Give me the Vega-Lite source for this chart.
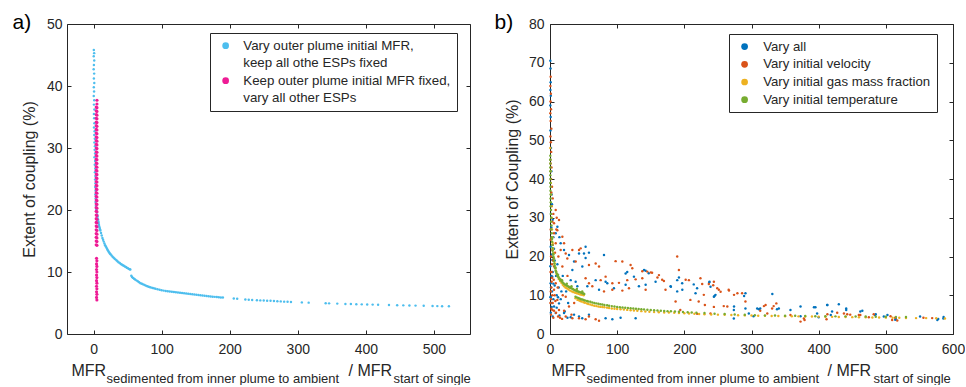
{
"$schema": "https://vega.github.io/schema/vega-lite/v6.json",
"background": "white",
"padding": {"left": 12, "top": 11, "right": 0, "bottom": 0},
"datasets": {
"a": [
{"s":"v","x":0.4,"y":45.8},{"s":"v","x":0.9,"y":45.3},{"s":"v","x":0.3,"y":44.8},{"s":"v","x":1.0,"y":44.1},{"s":"v","x":0.5,"y":43.4},{"s":"v","x":0.2,"y":42.7},{"s":"v","x":0.9,"y":42.0},{"s":"v","x":0.5,"y":41.2},{"s":"v","x":1.1,"y":40.5},{"s":"v","x":0.4,"y":39.8},{"s":"v","x":0.8,"y":39.1},{"s":"v","x":0.3,"y":38.4},{"s":"v","x":1.0,"y":37.7},{"s":"v","x":0.6,"y":37.0},{"s":"v","x":1.2,"y":36.2},{"s":"v","x":0.5,"y":35.5},{"s":"v","x":0.9,"y":34.8},{"s":"v","x":1.3,"y":34.0},{"s":"v","x":0.7,"y":33.3},{"s":"v","x":1.5,"y":32.7},{"s":"v","x":1.1,"y":32.1},{"s":"v","x":1.8,"y":31.5},{"s":"v","x":1.3,"y":30.9},{"s":"v","x":2.0,"y":30.3},{"s":"v","x":1.6,"y":29.7},{"s":"v","x":2.2,"y":29.1},{"s":"v","x":1.4,"y":28.5},{"s":"v","x":2.3,"y":27.9},{"s":"v","x":1.8,"y":27.3},{"s":"v","x":2.5,"y":26.7},{"s":"v","x":2.0,"y":26.1},{"s":"v","x":2.7,"y":25.5},{"s":"v","x":2.2,"y":24.9},{"s":"v","x":2.8,"y":24.3},{"s":"v","x":2.4,"y":23.7},{"s":"v","x":3.0,"y":23.1},{"s":"v","x":2.6,"y":22.5},{"s":"v","x":3.2,"y":21.9},{"s":"v","x":2.9,"y":21.3},{"s":"v","x":3.4,"y":20.7},{"s":"v","x":3.6,"y":20.2},
{"s":"v","x":4.5,"y":20.0},{"s":"v","x":5,"y":19.6},{"s":"v","x":5.5,"y":19.2},{"s":"v","x":6,"y":18.9},{"s":"v","x":6.5,"y":18.5},{"s":"v","x":7,"y":18.2},{"s":"v","x":7.5,"y":17.9},{"s":"v","x":8,"y":17.6},{"s":"v","x":8.5,"y":17.3},{"s":"v","x":9,"y":17.1},{"s":"v","x":9.5,"y":16.9},{"s":"v","x":10,"y":16.7},{"s":"v","x":11,"y":16.3},{"s":"v","x":12,"y":15.9},{"s":"v","x":13,"y":15.5},{"s":"v","x":14,"y":15.2},{"s":"v","x":15,"y":14.9},{"s":"v","x":16,"y":14.6},{"s":"v","x":17,"y":14.3},{"s":"v","x":18,"y":14.1},{"s":"v","x":19,"y":13.9},{"s":"v","x":20,"y":13.7},{"s":"v","x":21,"y":13.5},{"s":"v","x":22,"y":13.3},{"s":"v","x":23,"y":13.15},{"s":"v","x":24,"y":13.0},{"s":"v","x":25,"y":12.85},{"s":"v","x":26.5,"y":12.65},{"s":"v","x":28,"y":12.45},{"s":"v","x":29.5,"y":12.3},{"s":"v","x":31,"y":12.15},{"s":"v","x":32.5,"y":12.0},{"s":"v","x":34,"y":11.85},{"s":"v","x":35.5,"y":11.7},{"s":"v","x":37,"y":11.55},{"s":"v","x":38.5,"y":11.45},{"s":"v","x":40,"y":11.3},{"s":"v","x":41.5,"y":11.2},{"s":"v","x":43,"y":11.1},{"s":"v","x":44.5,"y":11.0},{"s":"v","x":46,"y":10.9},{"s":"v","x":47.5,"y":10.8},{"s":"v","x":49,"y":10.7},{"s":"v","x":50.5,"y":10.6},{"s":"v","x":52,"y":10.5},{"s":"v","x":53,"y":10.45},{"s":"v","x":54,"y":10.4},
{"s":"v","x":55.5,"y":9.4},{"s":"v","x":56.5,"y":9.2},{"s":"v","x":58,"y":9.05},{"s":"v","x":59.5,"y":8.9},{"s":"v","x":61,"y":8.8},{"s":"v","x":63,"y":8.65},{"s":"v","x":65,"y":8.5},{"s":"v","x":67,"y":8.35},{"s":"v","x":69,"y":8.2},{"s":"v","x":71,"y":8.1},{"s":"v","x":73,"y":8.0},{"s":"v","x":75,"y":7.9},{"s":"v","x":77,"y":7.8},{"s":"v","x":79,"y":7.7},{"s":"v","x":81,"y":7.62},{"s":"v","x":83,"y":7.55},{"s":"v","x":85,"y":7.48},{"s":"v","x":87,"y":7.42},{"s":"v","x":89,"y":7.36},{"s":"v","x":91,"y":7.3},{"s":"v","x":94,"y":7.22},{"s":"v","x":97,"y":7.14},{"s":"v","x":100,"y":7.07},{"s":"v","x":103,"y":7.0},{"s":"v","x":106,"y":6.95},{"s":"v","x":109,"y":6.9},{"s":"v","x":112,"y":6.85},{"s":"v","x":115,"y":6.8},{"s":"v","x":118,"y":6.76},{"s":"v","x":121,"y":6.72},{"s":"v","x":124,"y":6.68},{"s":"v","x":127,"y":6.64},{"s":"v","x":130,"y":6.6},{"s":"v","x":133,"y":6.56},{"s":"v","x":136,"y":6.52},{"s":"v","x":139,"y":6.48},{"s":"v","x":142,"y":6.44},{"s":"v","x":145,"y":6.4},{"s":"v","x":148,"y":6.36},{"s":"v","x":151,"y":6.32},{"s":"v","x":154,"y":6.28},{"s":"v","x":157,"y":6.24},{"s":"v","x":160,"y":6.2},{"s":"v","x":163,"y":6.16},{"s":"v","x":166,"y":6.12},{"s":"v","x":169,"y":6.08},{"s":"v","x":172,"y":6.05},{"s":"v","x":175,"y":6.02},{"s":"v","x":178,"y":5.99},{"s":"v","x":181,"y":5.96},{"s":"v","x":184,"y":5.93},{"s":"v","x":187,"y":5.9},{"s":"v","x":190,"y":5.88},
{"s":"v","x":206,"y":5.74},{"s":"v","x":211,"y":5.7},{"s":"v","x":223,"y":5.56},{"s":"v","x":228,"y":5.52},{"s":"v","x":233,"y":5.48},{"s":"v","x":240,"y":5.44},{"s":"v","x":245,"y":5.42},{"s":"v","x":250,"y":5.4},{"s":"v","x":255,"y":5.37},{"s":"v","x":260,"y":5.35},{"s":"v","x":265,"y":5.32},{"s":"v","x":270,"y":5.29},{"s":"v","x":275,"y":5.26},{"s":"v","x":280,"y":5.22},{"s":"v","x":285,"y":5.19},{"s":"v","x":290,"y":5.16},{"s":"v","x":306,"y":5.1},{"s":"v","x":316,"y":5.06},{"s":"v","x":341,"y":4.96},{"s":"v","x":346,"y":4.94},{"s":"v","x":358,"y":4.9},{"s":"v","x":370,"y":4.85},{"s":"v","x":378,"y":4.83},{"s":"v","x":386,"y":4.8},{"s":"v","x":394,"y":4.78},{"s":"v","x":402,"y":4.76},{"s":"v","x":410,"y":4.74},{"s":"v","x":418,"y":4.72},{"s":"v","x":434,"y":4.68},{"s":"v","x":446,"y":4.64},{"s":"v","x":455,"y":4.62},{"s":"v","x":464,"y":4.6},{"s":"v","x":473,"y":4.58},{"s":"v","x":485,"y":4.55},{"s":"v","x":498,"y":4.52},{"s":"v","x":505,"y":4.5},{"s":"v","x":512,"y":4.48},{"s":"v","x":522,"y":4.46},
{"s":"k","x":5.0,"y":37.7},{"s":"k","x":5.0,"y":37.1},{"s":"k","x":5.0,"y":36.5},{"s":"k","x":5.0,"y":35.9},{"s":"k","x":5.0,"y":35.3},{"s":"k","x":5.0,"y":34.7},{"s":"k","x":5.0,"y":34.1},{"s":"k","x":5.0,"y":33.5},{"s":"k","x":5.0,"y":32.9},{"s":"k","x":5.0,"y":32.3},{"s":"k","x":5.0,"y":31.7},{"s":"k","x":5.0,"y":31.1},{"s":"k","x":5.0,"y":30.5},{"s":"k","x":5.0,"y":29.9},{"s":"k","x":5.0,"y":29.3},{"s":"k","x":5.0,"y":28.7},{"s":"k","x":5.0,"y":28.1},{"s":"k","x":5.0,"y":27.5},{"s":"k","x":5.0,"y":26.9},{"s":"k","x":5.0,"y":26.3},{"s":"k","x":5.0,"y":25.7},{"s":"k","x":5.0,"y":25.1},{"s":"k","x":5.0,"y":24.5},{"s":"k","x":5.0,"y":23.9},{"s":"k","x":5.0,"y":23.3},{"s":"k","x":5.0,"y":22.7},{"s":"k","x":5.0,"y":22.1},{"s":"k","x":5.0,"y":21.5},{"s":"k","x":5.0,"y":20.9},{"s":"k","x":5.0,"y":20.3},{"s":"k","x":5.0,"y":19.7},{"s":"k","x":5.0,"y":19.1},{"s":"k","x":5.0,"y":18.5},{"s":"k","x":5.0,"y":17.9},{"s":"k","x":5.0,"y":17.3},{"s":"k","x":5.0,"y":16.7},{"s":"k","x":5.0,"y":16.1},{"s":"k","x":5.0,"y":15.5},{"s":"k","x":5.0,"y":14.9},{"s":"k","x":5.0,"y":14.3},
{"s":"k","x":3.9,"y":36.6},{"s":"k","x":3.9,"y":36.0},{"s":"k","x":3.9,"y":35.4},{"s":"k","x":3.9,"y":34.8},{"s":"k","x":3.9,"y":34.2},{"s":"k","x":3.9,"y":33.6},{"s":"k","x":3.9,"y":33.0},{"s":"k","x":3.9,"y":32.4},{"s":"k","x":3.9,"y":31.8},{"s":"k","x":3.9,"y":31.2},{"s":"k","x":3.9,"y":30.6},{"s":"k","x":3.9,"y":30.0},{"s":"k","x":3.9,"y":29.4},{"s":"k","x":3.9,"y":28.8},{"s":"k","x":3.9,"y":28.2},{"s":"k","x":3.9,"y":27.6},{"s":"k","x":3.9,"y":27.0},{"s":"k","x":3.9,"y":26.4},{"s":"k","x":3.9,"y":25.8},{"s":"k","x":3.9,"y":25.2},{"s":"k","x":3.9,"y":24.6},{"s":"k","x":3.9,"y":24.0},{"s":"k","x":3.9,"y":23.4},{"s":"k","x":3.9,"y":22.8},{"s":"k","x":3.9,"y":22.2},{"s":"k","x":3.9,"y":21.6},{"s":"k","x":3.9,"y":21.0},{"s":"k","x":3.9,"y":20.4},{"s":"k","x":3.9,"y":19.8},{"s":"k","x":3.9,"y":19.2},{"s":"k","x":3.9,"y":18.6},{"s":"k","x":3.9,"y":18.0},{"s":"k","x":3.9,"y":17.4},{"s":"k","x":3.9,"y":16.8},{"s":"k","x":3.9,"y":16.2},{"s":"k","x":3.9,"y":15.6},{"s":"k","x":3.9,"y":15.0},{"s":"k","x":3.9,"y":14.4},
{"s":"k","x":4.4,"y":12.2},{"s":"k","x":4.9,"y":11.8},{"s":"k","x":4.4,"y":11.3},{"s":"k","x":4.9,"y":10.9},{"s":"k","x":4.4,"y":10.4},{"s":"k","x":4.9,"y":10.0},{"s":"k","x":4.4,"y":9.5},{"s":"k","x":4.9,"y":9.1},{"s":"k","x":4.4,"y":8.6},{"s":"k","x":4.9,"y":8.2},{"s":"k","x":4.4,"y":7.7},{"s":"k","x":4.9,"y":7.3},{"s":"k","x":4.4,"y":6.8},{"s":"k","x":4.9,"y":6.4},{"s":"k","x":4.4,"y":5.9},{"s":"k","x":4.9,"y":5.5}
],
"b": [
{"s":"all","x":0.5,"y":70.5},{"s":"all","x":0.8,"y":68.5},{"s":"all","x":1,"y":65},{"s":"all","x":0.6,"y":63},{"s":"all","x":1.2,"y":61.5},{"s":"all","x":0.5,"y":59},{"s":"all","x":1,"y":56},{"s":"all","x":0.7,"y":52.5},{"s":"all","x":1.5,"y":48},{"s":"all","x":0.8,"y":45},{"s":"all","x":2,"y":42},{"s":"all","x":1.2,"y":39},{"s":"all","x":2.5,"y":36},{"s":"all","x":3,"y":33.5},{"s":"all","x":1.5,"y":31},{"s":"all","x":4,"y":29.5},{"s":"all","x":2,"y":27.5},{"s":"all","x":5,"y":25},{"s":"all","x":1,"y":22.5},{"s":"all","x":3,"y":20.5},{"s":"all","x":0.5,"y":17.5},{"s":"all","x":2,"y":15},{"s":"all","x":1.5,"y":12},{"s":"all","x":0.8,"y":9.5},{"s":"all","x":2.5,"y":7},{"s":"all","x":1.2,"y":5.5},{"s":"all","x":4,"y":4.5},
{"s":"all","x":8.5,"y":26},{"s":"all","x":11,"y":27.7},{"s":"all","x":15.9,"y":23.4},{"s":"all","x":20.9,"y":21.7},{"s":"all","x":28.3,"y":20.4},{"s":"all","x":35.8,"y":18.7},{"s":"all","x":43.2,"y":20.8},{"s":"all","x":50.6,"y":20.8},{"s":"all","x":58,"y":21},{"s":"all","x":53,"y":19.6},{"s":"all","x":48.1,"y":17.4},{"s":"all","x":33.3,"y":16.5},{"s":"all","x":30.8,"y":13.9},{"s":"all","x":38.2,"y":13.5},{"s":"all","x":40.7,"y":12.3},{"s":"all","x":55.6,"y":12.3},{"s":"all","x":68,"y":13.9},{"s":"all","x":82.8,"y":13.5},{"s":"all","x":95.2,"y":11.8},{"s":"all","x":112.6,"y":15.6},{"s":"all","x":115,"y":16},{"s":"all","x":125,"y":14.8},{"s":"all","x":132.4,"y":12.3},{"s":"all","x":142.4,"y":16.3},{"s":"all","x":157.2,"y":13.5},{"s":"all","x":179.5,"y":12.3},{"s":"all","x":189.4,"y":13.9},{"s":"all","x":196.8,"y":13.1},{"s":"all","x":189.4,"y":11},{"s":"all","x":216.7,"y":10.5},{"s":"all","x":142.4,"y":12.7},{"s":"all","x":73,"y":11.4},{"s":"all","x":112.6,"y":12.7},{"s":"all","x":85.3,"y":13.1},{"s":"all","x":13.4,"y":7.9},{"s":"all","x":8.5,"y":5.4},{"s":"all","x":20.9,"y":5.4},{"s":"all","x":35.8,"y":5},{"s":"all","x":30.8,"y":4.3},{"s":"all","x":43.2,"y":4.5},{"s":"all","x":82.8,"y":4.05},{"s":"all","x":92.8,"y":3.8},{"s":"all","x":127.5,"y":4.05},{"s":"all","x":105.1,"y":4.2},{"s":"all","x":58,"y":5},{"s":"all","x":48,"y":4.05},{"s":"all","x":3.5,"y":19.1},{"s":"all","x":1,"y":13.1},{"s":"all","x":6,"y":7.1},{"s":"all","x":1,"y":9.6},{"s":"all","x":3.5,"y":14.8},{"s":"all","x":80.4,"y":20.4},{"s":"all","x":53,"y":22.5},
{"s":"all","x":140,"y":16.5},{"s":"all","x":147,"y":15.7},{"s":"all","x":180,"y":12.2},{"s":"all","x":192,"y":14.6},{"s":"all","x":197,"y":11.4},{"s":"all","x":214,"y":12.8},{"s":"all","x":219,"y":11.8},{"s":"all","x":237,"y":13.3},{"s":"all","x":244,"y":9.6},{"s":"all","x":291,"y":10.5},{"s":"all","x":289,"y":9.8},{"s":"all","x":331,"y":10.3},{"s":"all","x":274,"y":7.1},{"s":"all","x":308.5,"y":6.6},{"s":"all","x":338,"y":6.4},{"s":"all","x":373,"y":7.1},{"s":"all","x":393,"y":6.9},{"s":"all","x":413,"y":7.5},{"s":"all","x":430,"y":7.7},{"s":"all","x":441,"y":6.6},{"s":"all","x":462,"y":5.8},{"s":"all","x":484,"y":4.9},{"s":"all","x":497,"y":4.5},{"s":"all","x":514,"y":3.7},{"s":"all","x":551,"y":4.5},{"s":"all","x":578,"y":3.9},{"s":"all","x":586,"y":4.4},{"s":"all","x":358,"y":6.2},{"s":"all","x":418,"y":4.9},{"s":"all","x":400,"y":4.3},{"s":"all","x":303,"y":4.6},
{"s":"all","x":237.5,"y":13.5},{"s":"all","x":239,"y":12.2},{"s":"all","x":245,"y":9.8},{"s":"all","x":246.4,"y":10.1},{"s":"all","x":273.7,"y":6.2},{"s":"all","x":291,"y":6.6},{"s":"all","x":311,"y":6.4},{"s":"all","x":313,"y":6.6},{"s":"all","x":340.7,"y":6.6},{"s":"all","x":373,"y":4.6},{"s":"all","x":395.2,"y":6.9},{"s":"all","x":397.7,"y":5.3},{"s":"all","x":412.6,"y":7.5},{"s":"all","x":420,"y":5.8},{"s":"all","x":441,"y":6.2},{"s":"all","x":465,"y":6.0},{"s":"all","x":485,"y":5.1},{"s":"all","x":502.4,"y":4.9},{"s":"all","x":514.8,"y":3.9},{"s":"all","x":576.7,"y":3.6},{"s":"all","x":585.7,"y":4.0},{"s":"all","x":273.7,"y":4.0},{"s":"all","x":296,"y":5.3},
{"s":"all","x":5,"y":9},{"s":"all","x":7,"y":12.5},{"s":"all","x":10,"y":6.8},{"s":"all","x":12,"y":9.5},{"s":"all","x":14,"y":4.8},{"s":"all","x":17,"y":11},{"s":"all","x":22,"y":5.8},{"s":"all","x":26,"y":4.2},
{"s":"all","x":2,"y":8},{"s":"all","x":3,"y":11},{"s":"all","x":4,"y":16},{"s":"all","x":5,"y":13},{"s":"all","x":6,"y":22},{"s":"all","x":7,"y":19},{"s":"all","x":9,"y":15},{"s":"all","x":10,"y":10},{"s":"all","x":11,"y":18},{"s":"all","x":13,"y":12},{"s":"all","x":14,"y":25},{"s":"all","x":16,"y":9},{"s":"all","x":19,"y":15},{"s":"all","x":24,"y":11},{"s":"all","x":27,"y":8},
{"s":"vel","x":1,"y":66.4},{"s":"vel","x":0.6,"y":64},{"s":"vel","x":1.3,"y":62},{"s":"vel","x":0.8,"y":60},{"s":"vel","x":1.5,"y":58},{"s":"vel","x":0.5,"y":57},{"s":"vel","x":1,"y":55},{"s":"vel","x":2,"y":53},{"s":"vel","x":0.7,"y":51},{"s":"vel","x":1.2,"y":49.5},{"s":"vel","x":1.8,"y":47},{"s":"vel","x":0.9,"y":44},{"s":"vel","x":2.2,"y":43},{"s":"vel","x":1.5,"y":40},{"s":"vel","x":3,"y":38},{"s":"vel","x":2,"y":36.5},{"s":"vel","x":4,"y":35},{"s":"vel","x":2.5,"y":33},{"s":"vel","x":5,"y":31},{"s":"vel","x":3.5,"y":29},{"s":"vel","x":1,"y":27},{"s":"vel","x":6,"y":26},{"s":"vel","x":2,"y":24.5},{"s":"vel","x":4,"y":23},{"s":"vel","x":1.5,"y":20},{"s":"vel","x":3,"y":18},{"s":"vel","x":0.8,"y":16},{"s":"vel","x":2.5,"y":13.5},{"s":"vel","x":1.2,"y":11},{"s":"vel","x":3.5,"y":10},{"s":"vel","x":0.6,"y":8},{"s":"vel","x":2,"y":6.5},{"s":"vel","x":1.5,"y":5},{"s":"vel","x":5,"y":4.2},{"s":"vel","x":10,"y":30},
{"s":"vel","x":6,"y":28.6},{"s":"vel","x":10.9,"y":26.8},{"s":"vel","x":13.4,"y":29.4},{"s":"vel","x":18.4,"y":25.1},{"s":"vel","x":20.9,"y":23.4},{"s":"vel","x":23.4,"y":20.8},{"s":"vel","x":25.8,"y":19.5},{"s":"vel","x":33.3,"y":21.7},{"s":"vel","x":43.2,"y":21.7},{"s":"vel","x":45.7,"y":22.1},{"s":"vel","x":38.2,"y":18.7},{"s":"vel","x":58,"y":17.8},{"s":"vel","x":68,"y":18.2},{"s":"vel","x":73,"y":17.4},{"s":"vel","x":97.7,"y":18.8},{"s":"vel","x":107.7,"y":18.7},{"s":"vel","x":120,"y":17.8},{"s":"vel","x":122.5,"y":16.95},{"s":"vel","x":144.8,"y":16.1},{"s":"vel","x":152,"y":15.8},{"s":"vel","x":75.4,"y":13.9},{"s":"vel","x":82.8,"y":14.8},{"s":"vel","x":92.8,"y":13.1},{"s":"vel","x":102.7,"y":13.2},{"s":"vel","x":115,"y":13.9},{"s":"vel","x":127.5,"y":14.1},{"s":"vel","x":137.4,"y":14.4},{"s":"vel","x":162.2,"y":15.2},{"s":"vel","x":169.6,"y":13.7},{"s":"vel","x":191.9,"y":16.5},{"s":"vel","x":206.8,"y":13.9},{"s":"vel","x":224,"y":14.4},{"s":"vel","x":53,"y":14.4},{"s":"vel","x":58,"y":13.1},{"s":"vel","x":63,"y":12.3},{"s":"vel","x":80.4,"y":11},{"s":"vel","x":92.8,"y":11.4},{"s":"vel","x":107.7,"y":11.2},{"s":"vel","x":117.6,"y":11.8},{"s":"vel","x":142.4,"y":11.4},{"s":"vel","x":172,"y":11.4},{"s":"vel","x":187,"y":8.4},{"s":"vel","x":209,"y":8.8},{"s":"vel","x":221.4,"y":8.4},{"s":"vel","x":23.4,"y":9.6},{"s":"vel","x":28.3,"y":7.1},{"s":"vel","x":13.4,"y":6.2},{"s":"vel","x":23.4,"y":4.5},{"s":"vel","x":33.3,"y":4.05},{"s":"vel","x":43.2,"y":4.05},{"s":"vel","x":58,"y":4.5},{"s":"vel","x":73,"y":3.44},{"s":"vel","x":53,"y":3.8},{"s":"vel","x":68,"y":3.8},{"s":"vel","x":3.5,"y":6.2},{"s":"vel","x":6,"y":17.4},{"s":"vel","x":8.5,"y":13.1},{"s":"vel","x":1,"y":24.3},{"s":"vel","x":3.5,"y":21.7},{"s":"vel","x":6,"y":11.4},{"s":"vel","x":10.9,"y":8.8},{"s":"vel","x":15.9,"y":21.7},{"s":"vel","x":18.4,"y":17.4},{"s":"vel","x":8.5,"y":32},{"s":"vel","x":8.5,"y":23.4},
{"s":"vel","x":137.4,"y":16.2},{"s":"vel","x":150,"y":15.9},{"s":"vel","x":160,"y":14.6},{"s":"vel","x":167,"y":14},{"s":"vel","x":189.4,"y":20},{"s":"vel","x":202,"y":14},{"s":"vel","x":244,"y":13.5},{"s":"vel","x":251.4,"y":11.4},{"s":"vel","x":266,"y":11.4},{"s":"vel","x":279,"y":10.5},{"s":"vel","x":264,"y":7.1},{"s":"vel","x":321,"y":7.5},{"s":"vel","x":333,"y":7.2},{"s":"vel","x":323.5,"y":5.3},{"s":"vel","x":358,"y":4.9},{"s":"vel","x":378,"y":4},{"s":"vel","x":413,"y":5.1},{"s":"vel","x":427.6,"y":5.5},{"s":"vel","x":447,"y":5},{"s":"vel","x":462,"y":4.9},{"s":"vel","x":482,"y":5.1},{"s":"vel","x":507,"y":4.6},{"s":"vel","x":514,"y":4.2},{"s":"vel","x":556,"y":4.2},{"s":"vel","x":569,"y":4.1},{"s":"vel","x":373,"y":3.2},{"s":"vel","x":194,"y":6.2},{"s":"vel","x":219,"y":5.2},{"s":"vel","x":239,"y":5.3},
{"s":"vel","x":226.6,"y":12.9},{"s":"vel","x":236.5,"y":12.9},{"s":"vel","x":243,"y":12.6},{"s":"vel","x":249,"y":11.8},{"s":"vel","x":254,"y":10.9},{"s":"vel","x":266.5,"y":11.2},{"s":"vel","x":274,"y":10.1},{"s":"vel","x":286,"y":10.5},{"s":"vel","x":291,"y":8.4},{"s":"vel","x":318.5,"y":7.2},{"s":"vel","x":337,"y":7.9},{"s":"vel","x":330.7,"y":6.6},{"s":"vel","x":229,"y":10.1},{"s":"vel","x":230.6,"y":7.5},{"s":"vel","x":244,"y":7},{"s":"vel","x":258.7,"y":7.2},{"s":"vel","x":313,"y":6},{"s":"vel","x":379,"y":3.6},{"s":"vel","x":411.7,"y":3.8},{"s":"vel","x":437.6,"y":5.3},{"s":"vel","x":442.5,"y":5.1},{"s":"vel","x":459.8,"y":4.9},{"s":"vel","x":474.7,"y":4.3},{"s":"vel","x":509.4,"y":3.6},{"s":"vel","x":517,"y":3.5},
{"s":"vel","x":2,"y":12},{"s":"vel","x":4,"y":8},{"s":"vel","x":6,"y":6},{"s":"vel","x":3,"y":14.5},{"s":"vel","x":7,"y":10},{"s":"vel","x":9,"y":5.5},{"s":"vel","x":12,"y":4.5},{"s":"vel","x":15,"y":4.2},{"s":"vel","x":18,"y":3.9},
{"s":"vel","x":1.5,"y":9},{"s":"vel","x":2.5,"y":16},{"s":"vel","x":4.5,"y":19},{"s":"vel","x":5.5,"y":14},{"s":"vel","x":7.5,"y":21},{"s":"vel","x":8,"y":8.5},{"s":"vel","x":9.5,"y":27},{"s":"vel","x":11.5,"y":12},{"s":"vel","x":12.5,"y":20},{"s":"vel","x":16,"y":14},{"s":"vel","x":19,"y":10},{"s":"vel","x":21,"y":6},{"s":"vel","x":26,"y":15},{"s":"vel","x":29,"y":12},{"s":"vel","x":32,"y":5},{"s":"vel","x":36,"y":8},
{"s":"gas","x":0.5,"y":48},{"s":"gas","x":0.8,"y":45},{"s":"gas","x":1,"y":42},{"s":"gas","x":1.3,"y":39},{"s":"gas","x":1.6,"y":36},{"s":"gas","x":2,"y":33},{"s":"gas","x":2.5,"y":30},{"s":"gas","x":3,"y":27},{"s":"gas","x":3.5,"y":25},{"s":"gas","x":4,"y":23.5},{"s":"gas","x":4.5,"y":22},{"s":"gas","x":5.2,"y":20.8},{"s":"gas","x":6,"y":19.5},{"s":"gas","x":7,"y":18.2},{"s":"gas","x":8,"y":17},{"s":"gas","x":9,"y":16.2},{"s":"gas","x":10,"y":15.5},{"s":"gas","x":11.5,"y":14.8},{"s":"gas","x":13,"y":14.2},{"s":"gas","x":15,"y":13.7},{"s":"gas","x":17,"y":13.2},{"s":"gas","x":19,"y":12.7},{"s":"gas","x":21,"y":12.3},{"s":"gas","x":23,"y":12.0},{"s":"gas","x":25,"y":11.8},{"s":"gas","x":27.5,"y":11.5},{"s":"gas","x":30,"y":11.2},{"s":"gas","x":32.5,"y":11.0},{"s":"gas","x":35,"y":10.8},{"s":"gas","x":37.5,"y":10.65},{"s":"gas","x":40,"y":10.5},{"s":"gas","x":42.5,"y":10.35},{"s":"gas","x":45,"y":10.2},{"s":"gas","x":47.5,"y":10.1},{"s":"gas","x":50,"y":10.0},
{"s":"gas","x":38,"y":9.2},{"s":"gas","x":41,"y":8.8},{"s":"gas","x":45,"y":8.5},{"s":"gas","x":50,"y":8.2},{"s":"gas","x":55,"y":7.9},{"s":"gas","x":60,"y":7.6},{"s":"gas","x":66,"y":7.3},{"s":"gas","x":72,"y":7.1},{"s":"gas","x":78,"y":6.95},{"s":"gas","x":85,"y":6.8},{"s":"gas","x":92,"y":6.6},{"s":"gas","x":100,"y":6.45},{"s":"gas","x":110,"y":6.3},{"s":"gas","x":120,"y":6.15},{"s":"gas","x":130,"y":6.0},{"s":"gas","x":142,"y":5.8},{"s":"gas","x":155,"y":5.65},{"s":"gas","x":170,"y":5.55},{"s":"gas","x":185,"y":5.5},{"s":"gas","x":200,"y":5.35},{"s":"gas","x":215,"y":5.25},{"s":"gas","x":230,"y":5.1},{"s":"gas","x":250,"y":5.0},{"s":"gas","x":270,"y":4.9},{"s":"gas","x":290,"y":4.8},{"s":"gas","x":310,"y":4.7},{"s":"gas","x":330,"y":4.65},{"s":"gas","x":350,"y":4.6},{"s":"gas","x":370,"y":4.55},{"s":"gas","x":390,"y":4.5},{"s":"gas","x":410,"y":4.45},{"s":"gas","x":430,"y":4.4},{"s":"gas","x":450,"y":4.35},{"s":"gas","x":470,"y":4.3},{"s":"gas","x":490,"y":4.25},{"s":"gas","x":510,"y":4.2},{"s":"gas","x":530,"y":4.15},{"s":"gas","x":545,"y":4.1},{"s":"gas","x":560,"y":4.1},{"s":"gas","x":575,"y":4.05},{"s":"gas","x":588,"y":4.0},
{"s":"gas","x":43,"y":8.7},{"s":"gas","x":47,"y":8.4},{"s":"gas","x":52,"y":8.05},{"s":"gas","x":57,"y":7.75},{"s":"gas","x":63,"y":7.45},{"s":"gas","x":69,"y":7.2},{"s":"gas","x":75,"y":7.0},{"s":"gas","x":81,"y":6.9},{"s":"gas","x":88,"y":6.7},{"s":"gas","x":96,"y":6.5},{"s":"gas","x":105,"y":6.38},{"s":"gas","x":115,"y":6.22},{"s":"gas","x":125,"y":6.08},{"s":"gas","x":136,"y":5.9},{"s":"gas","x":148,"y":5.72},{"s":"gas","x":162,"y":5.6},{"s":"gas","x":177,"y":5.52},{"s":"gas","x":192,"y":5.42},{"s":"gas","x":207,"y":5.3},{"s":"gas","x":222,"y":5.18},{"s":"gas","x":240,"y":5.05},{"s":"gas","x":260,"y":4.95},{"s":"gas","x":280,"y":4.85},{"s":"gas","x":300,"y":4.75},{"s":"gas","x":320,"y":4.68},{"s":"gas","x":340,"y":4.62},{"s":"gas","x":360,"y":4.58},{"s":"gas","x":380,"y":4.52},{"s":"gas","x":400,"y":4.48},{"s":"gas","x":420,"y":4.42},{"s":"gas","x":440,"y":4.38},{"s":"gas","x":460,"y":4.32},{"s":"gas","x":480,"y":4.28},{"s":"gas","x":500,"y":4.22},{"s":"gas","x":520,"y":4.18},
{"s":"temp","x":0.5,"y":46},{"s":"temp","x":0.5,"y":44},{"s":"temp","x":0.6,"y":42},{"s":"temp","x":0.7,"y":40},{"s":"temp","x":0.8,"y":38},{"s":"temp","x":1,"y":36},{"s":"temp","x":1.2,"y":34},{"s":"temp","x":1.5,"y":32},{"s":"temp","x":1.8,"y":30},{"s":"temp","x":2.2,"y":28},{"s":"temp","x":2.6,"y":26},{"s":"temp","x":3,"y":24.5},{"s":"temp","x":3.5,"y":23},{"s":"temp","x":4,"y":21.5},{"s":"temp","x":5,"y":20},{"s":"temp","x":6,"y":18.8},{"s":"temp","x":7,"y":17.6},{"s":"temp","x":8.5,"y":16.4},{"s":"temp","x":10,"y":15.6},{"s":"temp","x":12,"y":14.9},{"s":"temp","x":14,"y":14.3},{"s":"temp","x":16,"y":13.9},{"s":"temp","x":19,"y":13.3},{"s":"temp","x":22,"y":12.8},{"s":"temp","x":25,"y":12.5},{"s":"temp","x":28,"y":12.2},{"s":"temp","x":31,"y":11.9},{"s":"temp","x":34,"y":11.6},{"s":"temp","x":37,"y":11.3},{"s":"temp","x":40,"y":11.1},{"s":"temp","x":43,"y":10.9},{"s":"temp","x":46,"y":10.7},{"s":"temp","x":49,"y":10.5},{"s":"temp","x":51,"y":10.3},
{"s":"temp","x":0.3,"y":45},{"s":"temp","x":0.4,"y":43},{"s":"temp","x":0.5,"y":41},{"s":"temp","x":0.6,"y":39},{"s":"temp","x":0.7,"y":37},{"s":"temp","x":0.9,"y":35},{"s":"temp","x":1.1,"y":33},{"s":"temp","x":1.3,"y":31},{"s":"temp","x":1.6,"y":29},{"s":"temp","x":2,"y":27},{"s":"temp","x":2.4,"y":25},{"s":"temp","x":3.2,"y":23.8},{"s":"temp","x":3.8,"y":22.2},{"s":"temp","x":4.5,"y":20.8},{"s":"temp","x":5.5,"y":19.4},{"s":"temp","x":6.5,"y":18.2},{"s":"temp","x":7.7,"y":17},{"s":"temp","x":9.2,"y":16},{"s":"temp","x":11,"y":15.2},{"s":"temp","x":13,"y":14.6},{"s":"temp","x":15,"y":14.1},{"s":"temp","x":17.5,"y":13.6},{"s":"temp","x":20.5,"y":13.05},{"s":"temp","x":23.5,"y":12.65},{"s":"temp","x":26.5,"y":12.35},{"s":"temp","x":29.5,"y":12.05},{"s":"temp","x":32.5,"y":11.75},{"s":"temp","x":35.5,"y":11.45},{"s":"temp","x":38.5,"y":11.2},{"s":"temp","x":41.5,"y":11.0},{"s":"temp","x":44.5,"y":10.8},{"s":"temp","x":47.5,"y":10.6},{"s":"temp","x":50,"y":10.4},
{"s":"temp","x":5,"y":20.6},{"s":"temp","x":8,"y":17.2},{"s":"temp","x":12,"y":15.3},{"s":"temp","x":18,"y":13.9},{"s":"temp","x":25,"y":13},{"s":"temp","x":32,"y":12.3},{"s":"temp","x":40,"y":11.6},{"s":"temp","x":48,"y":11.0},
{"s":"temp","x":38,"y":9.6},{"s":"temp","x":42,"y":9.3},{"s":"temp","x":46,"y":9.0},{"s":"temp","x":50,"y":8.8},{"s":"temp","x":55,"y":8.5},{"s":"temp","x":60,"y":8.3},{"s":"temp","x":66,"y":8.0},{"s":"temp","x":72,"y":7.8},{"s":"temp","x":78,"y":7.6},{"s":"temp","x":85,"y":7.4},{"s":"temp","x":92,"y":7.2},{"s":"temp","x":100,"y":7.0},{"s":"temp","x":108,"y":6.85},{"s":"temp","x":116,"y":6.7},{"s":"temp","x":124,"y":6.6},{"s":"temp","x":132,"y":6.45},{"s":"temp","x":140,"y":6.35},{"s":"temp","x":150,"y":6.2},{"s":"temp","x":160,"y":6.05},{"s":"temp","x":170,"y":5.95},{"s":"temp","x":180,"y":5.85},{"s":"temp","x":192,"y":5.75},{"s":"temp","x":205,"y":5.6},{"s":"temp","x":218,"y":5.5},{"s":"temp","x":230,"y":5.4},{"s":"temp","x":245,"y":5.25},{"s":"temp","x":260,"y":5.15},{"s":"temp","x":275,"y":5.05},{"s":"temp","x":290,"y":4.95},{"s":"temp","x":305,"y":4.85},{"s":"temp","x":320,"y":4.8},{"s":"temp","x":335,"y":4.75},{"s":"temp","x":350,"y":4.7},{"s":"temp","x":365,"y":4.7},{"s":"temp","x":380,"y":4.65},{"s":"temp","x":395,"y":4.6},{"s":"temp","x":410,"y":4.6},{"s":"temp","x":425,"y":4.55},{"s":"temp","x":440,"y":4.55},{"s":"temp","x":455,"y":4.5},{"s":"temp","x":470,"y":4.5},{"s":"temp","x":485,"y":4.45},{"s":"temp","x":500,"y":4.45},{"s":"temp","x":515,"y":4.4},{"s":"temp","x":530,"y":4.4},
{"s":"temp","x":40,"y":9.45},{"s":"temp","x":44,"y":9.15},{"s":"temp","x":48,"y":8.9},{"s":"temp","x":52,"y":8.65},{"s":"temp","x":57,"y":8.4},{"s":"temp","x":63,"y":8.15},{"s":"temp","x":69,"y":7.9},{"s":"temp","x":75,"y":7.7},{"s":"temp","x":81,"y":7.5},{"s":"temp","x":88,"y":7.3},{"s":"temp","x":96,"y":7.1},{"s":"temp","x":104,"y":6.92},{"s":"temp","x":112,"y":6.78},{"s":"temp","x":120,"y":6.65},{"s":"temp","x":128,"y":6.52},{"s":"temp","x":136,"y":6.4},{"s":"temp","x":145,"y":6.28},{"s":"temp","x":155,"y":6.12},{"s":"temp","x":165,"y":6.0},{"s":"temp","x":175,"y":5.9},{"s":"temp","x":186,"y":5.8},{"s":"temp","x":198,"y":5.68},{"s":"temp","x":211,"y":5.55}
]
},
"hconcat": [
{
"width": 403, "height": 310,
"resolve": {"axis": {"x": "independent", "y": "independent"}},
"layer": [
{"data": {"name": "a"}, "transform": [{"filter": "datum.s == 'v'"}], "mark": {"type": "circle", "opacity": 1, "size": 6},
 "encoding": {
  "x": {"field": "x", "type": "quantitative", "scale": {"domain": [-39, 553], "nice": false, "zero": false},
        "axis": {"orient": "bottom", "values": [0,100,200,300,400,500], "tickSize": -4, "labelPadding": 12, "labelFlush": false, "title": "MFR", "titleX": 4, "titleY": 41, "titleAlign": "left", "titleBaseline": "alphabetic", "titleAnchor": null}},
  "y": {"field": "y", "type": "quantitative", "scale": {"domain": [0, 50], "nice": false, "zero": false},
        "axis": {"orient": "left", "values": [0,10,20,30,40,50], "tickSize": -4, "labelPadding": 9, "labelFlush": false, "title": "Extent of coupling (%)", "titleX": -29.5, "titleY": 155, "titleAngle": -90, "titleBaseline": "bottom", "titleAlign": "center"}},
  "color": {"field": "s", "type": "nominal", "scale": {"domain": ["v", "k"], "range": ["#4DBEEE", "#EE1C95"]},
        "legend": {"orient": "none", "legendX": 143, "legendY": 9, "title": null, "symbolType": "circle", "symbolSize": 45, "symbolStrokeWidth": 0, "labelFontSize": 13.3, "labelLimit": 400, "rowPadding": 3, "padding": 6, "symbolOffset": 3, "labelOffset": 11, "strokeColor": "#262626", "fillColor": "white",
          "labelExpr": "datum.label == 'v' ? ['Vary outer plume initial MFR,', 'keep all othe ESPs fixed'] : ['Keep outer plume initial MFR fixed,', 'vary all other ESPs']"}}
 }},
{"data": {"name": "a"}, "transform": [{"filter": "datum.s == 'k'"}], "mark": {"type": "circle", "opacity": 1, "size": 10},
 "encoding": {
  "x": {"field": "x", "type": "quantitative", "scale": {"domain": [-39, 553], "nice": false, "zero": false}, "axis": null},
  "y": {"field": "y", "type": "quantitative", "scale": {"domain": [0, 50], "nice": false, "zero": false}, "axis": null},
  "color": {"field": "s", "type": "nominal", "scale": {"domain": ["v", "k"], "range": ["#4DBEEE", "#EE1C95"]}}
 }},
{"data": {"values": []}, "mark": "circle",
 "encoding": {
  "x": {"field": "x", "type": "quantitative", "scale": {"domain": [-39, 553], "nice": false, "zero": false},
        "axis": {"orient": "bottom", "labels": false, "ticks": false, "domain": false, "title": "sedimented from inner plume to ambient", "titleFontSize": 13, "titleX": 39, "titleY": 48, "titleAlign": "left", "titleBaseline": "alphabetic", "titleAnchor": null}},
  "y": {"field": "y", "type": "quantitative", "scale": {"domain": [0, 50], "nice": false, "zero": false},
        "axis": {"orient": "right", "values": [0,10,20,30,40,50], "tickSize": -4, "labels": false, "title": null}}
 }},
{"data": {"values": []}, "mark": "circle",
 "encoding": {
  "x": {"field": "x", "type": "quantitative", "scale": {"domain": [-39, 553], "nice": false, "zero": false},
        "axis": {"orient": "top", "values": [0,100,200,300,400,500], "tickSize": -4, "labels": false, "title": null, "minExtent": 0, "maxExtent": 0}},
  "y": {"field": "y", "type": "quantitative", "scale": {"domain": [0, 50], "nice": false, "zero": false},
        "axis": {"orient": "left", "labels": false, "ticks": false, "domain": false, "title": "a)", "titleFontSize": 21, "titleColor": "#000000", "titleAngle": 0, "titleX": -55, "titleY": 4, "titleAlign": "left", "titleBaseline": "alphabetic", "minExtent": 0}}
 }},
{"data": {"values": []}, "mark": "circle",
 "encoding": {
  "x": {"field": "x", "type": "quantitative", "scale": {"domain": [-39, 553], "nice": false, "zero": false},
        "axis": {"orient": "bottom", "labels": false, "ticks": false, "domain": false, "title": "/ MFR", "titleX": 281, "titleY": 41, "titleAlign": "left", "titleBaseline": "alphabetic", "titleAnchor": null}},
  "y": {"field": "y", "type": "quantitative", "scale": {"domain": [0, 50], "nice": false, "zero": false}, "axis": null}
 }},
{"data": {"values": []}, "mark": "circle",
 "encoding": {
  "x": {"field": "x", "type": "quantitative", "scale": {"domain": [-39, 553], "nice": false, "zero": false},
        "axis": {"orient": "bottom", "labels": false, "ticks": false, "domain": false, "title": "start of single", "titleFontSize": 13, "titleX": 326, "titleY": 48, "titleAlign": "left", "titleBaseline": "alphabetic", "titleAnchor": null}},
  "y": {"field": "y", "type": "quantitative", "scale": {"domain": [0, 50], "nice": false, "zero": false}, "axis": null}
 }}
]
},
{
"width": 403, "height": 310,
"resolve": {"axis": {"x": "independent", "y": "independent"}},
"layer": [
{"data": {"name": "b"}, "mark": {"type": "circle", "opacity": 1, "size": 6},
 "encoding": {
  "x": {"field": "x", "type": "quantitative", "scale": {"domain": [0, 600], "nice": false, "zero": false},
        "axis": {"orient": "bottom", "values": [0,100,200,300,400,500,600], "tickSize": -4, "labelPadding": 12, "labelFlush": false, "title": "MFR", "titleX": 1, "titleY": 41, "titleAlign": "left", "titleBaseline": "alphabetic", "titleAnchor": null}},
  "y": {"field": "y", "type": "quantitative", "scale": {"domain": [0, 80], "nice": false, "zero": false},
        "axis": {"orient": "left", "values": [0,10,20,30,40,50,60,70,80], "tickSize": -4, "labelPadding": 10, "labelFlush": false, "title": "Extent of Coupling (%)", "titleX": -29.5, "titleY": 155, "titleAngle": -90, "titleBaseline": "bottom", "titleAlign": "center"}},
  "color": {"field": "s", "type": "nominal", "scale": {"domain": ["all", "vel", "gas", "temp"], "range": ["#0072BD", "#D95319", "#EDB120", "#77AC30"]},
        "legend": {"orient": "none", "legendX": 179, "legendY": 10, "title": null, "symbolType": "circle", "symbolSize": 45, "symbolStrokeWidth": 0, "labelFontSize": 13.2, "labelLimit": 400, "rowPadding": 3.7, "padding": 6, "symbolOffset": 3, "labelOffset": 12, "strokeColor": "#262626", "fillColor": "white",
          "labelExpr": "datum.label == 'all' ? 'Vary all' : datum.label == 'vel' ? 'Vary initial velocity' : datum.label == 'gas' ? 'Vary initial gas mass fraction' : 'Vary initial temperature'"}}
 }},
{"data": {"values": []}, "mark": "circle",
 "encoding": {
  "x": {"field": "x", "type": "quantitative", "scale": {"domain": [0, 600], "nice": false, "zero": false},
        "axis": {"orient": "bottom", "labels": false, "ticks": false, "domain": false, "title": "sedimented from inner plume to ambient", "titleFontSize": 13, "titleX": 36, "titleY": 48, "titleAlign": "left", "titleBaseline": "alphabetic", "titleAnchor": null}},
  "y": {"field": "y", "type": "quantitative", "scale": {"domain": [0, 80], "nice": false, "zero": false},
        "axis": {"orient": "right", "values": [0,10,20,30,40,50,60,70,80], "tickSize": -4, "labels": false, "title": null}}
 }},
{"data": {"values": []}, "mark": "circle",
 "encoding": {
  "x": {"field": "x", "type": "quantitative", "scale": {"domain": [0, 600], "nice": false, "zero": false},
        "axis": {"orient": "top", "values": [0,100,200,300,400,500,600], "tickSize": -4, "labels": false, "title": null, "minExtent": 0, "maxExtent": 0}},
  "y": {"field": "y", "type": "quantitative", "scale": {"domain": [0, 80], "nice": false, "zero": false},
        "axis": {"orient": "left", "labels": false, "ticks": false, "domain": false, "title": "b)", "titleFontSize": 21, "titleColor": "#000000", "titleAngle": 0, "titleX": -56, "titleY": 4, "titleAlign": "left", "titleBaseline": "alphabetic", "minExtent": 0}}
 }},
{"data": {"values": []}, "mark": "circle",
 "encoding": {
  "x": {"field": "x", "type": "quantitative", "scale": {"domain": [0, 600], "nice": false, "zero": false},
        "axis": {"orient": "bottom", "labels": false, "ticks": false, "domain": false, "title": "/ MFR", "titleX": 277, "titleY": 41, "titleAlign": "left", "titleBaseline": "alphabetic", "titleAnchor": null}},
  "y": {"field": "y", "type": "quantitative", "scale": {"domain": [0, 80], "nice": false, "zero": false}, "axis": null}
 }},
{"data": {"values": []}, "mark": "circle",
 "encoding": {
  "x": {"field": "x", "type": "quantitative", "scale": {"domain": [0, 600], "nice": false, "zero": false},
        "axis": {"orient": "bottom", "labels": false, "ticks": false, "domain": false, "title": "start of single", "titleFontSize": 13, "titleX": 323, "titleY": 48, "titleAlign": "left", "titleBaseline": "alphabetic", "titleAnchor": null}},
  "y": {"field": "y", "type": "quantitative", "scale": {"domain": [0, 80], "nice": false, "zero": false}, "axis": null}
 }}
]
}
],
"spacing": 80,
"bounds": "flush",
"resolve": {"scale": {"color": "independent"}, "legend": {"color": "independent"}},
"config": {
 "view": {"stroke": null},
 "font": "Liberation Sans",
 "axis": {"grid": false, "domainColor": "#262626", "tickColor": "#262626", "labelColor": "#262626", "titleColor": "#262626", "labelFontSize": 14, "titleFontSize": 16, "titleFontWeight": "normal", "labelFont": "Liberation Sans", "titleFont": "Liberation Sans", "domainWidth": 1, "tickWidth": 1},
 "legend": {"labelFont": "Liberation Sans", "labelColor": "#262626"},
 "style": {"guide-label": {"lineHeight": 17.5}}
}
}
